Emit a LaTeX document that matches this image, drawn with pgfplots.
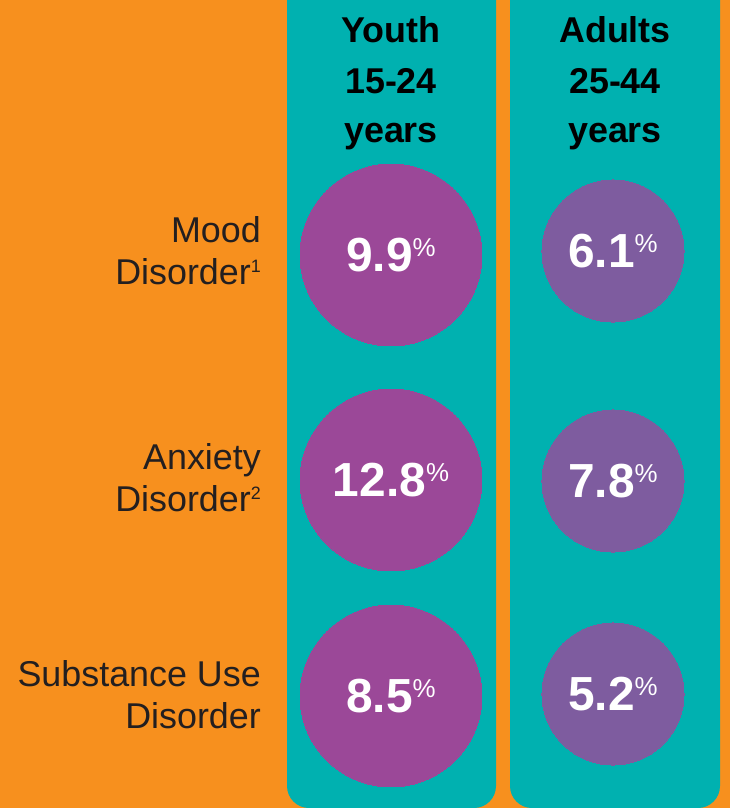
\documentclass[border=0pt]{standalone}
\usepackage{pgfplots}
\pgfplotsset{compat=1.18}
\usepackage{fontspec}
\setmainfont{Liberation Sans}
\definecolor{bgOrange}{HTML}{F7901E}
\definecolor{colTeal}{HTML}{00B1B0}
\definecolor{youthC}{HTML}{9B4898}
\definecolor{adultC}{HTML}{7E5C9F}
\definecolor{labelC}{HTML}{231F20}
\newcommand{\valfmt}[1]{\fontsize{48}{48}\selectfont\bfseries #1\raisebox{15bp}{\fontsize{26}{26}\selectfont\mdseries\%}}
\begin{document}
\begin{tikzpicture}
\begin{axis}[width=730bp,height=808bp,scale only axis,
  xmin=0,xmax=730,ymin=0,ymax=808,y dir=reverse,hide axis,clip=false]
\fill[bgOrange] (0,0) rectangle (730,808);
\fill[colTeal, rounded corners=22bp] (287,0) -- (287,808) -- (496,808) -- (496,0);
\fill[colTeal, rounded corners=22bp] (510,0) -- (510,808) -- (720,808) -- (720,0);
% headers
\begin{scope}[every node/.style={font=\fontsize{36}{40}\selectfont\bfseries, text=black, anchor=base, inner sep=0pt}]
\node at (391,43) {Youth};
\node at (391,94) {15-24};
\node at (391,143) {years};
\node at (615,43) {Adults};
\node at (615,94) {25-44};
\node at (615,143) {years};
\end{scope}
% row labels
\begin{scope}[every node/.style={font=\fontsize{36}{40}\selectfont, text=labelC, anchor=base east, inner sep=0pt}]
\node at (261,242) {Mood};
\node at (261,284) {Disorder\raisebox{12bp}{\fontsize{18}{18}\selectfont 1}};
\node at (261,469) {Anxiety};
\node at (261,511) {Disorder\raisebox{12bp}{\fontsize{18}{18}\selectfont 2}};
\node at (261,686) {Substance Use};
\node at (261,728) {Disorder};
\end{scope}
\addplot[only marks, draw=none, fill=youthC, mark=*, mark size=91.3pt, mark options={draw=youthC, fill=youthC, line width=0pt},
  point meta=explicit symbolic, nodes near coords={\valfmt{\pgfplotspointmeta}},
  every node near coord/.append style={anchor=center, text=white, inner sep=0pt}]
  coordinates {(391,255) [9.9] (391,480) [12.8] (391,696) [8.5]};
\addplot[only marks, draw=none, fill=adultC, mark=*, mark size=71.3pt, mark options={draw=adultC, fill=adultC, line width=0pt},
  point meta=explicit symbolic, nodes near coords={\valfmt{\pgfplotspointmeta}},
  every node near coord/.append style={anchor=center, text=white, inner sep=0pt}]
  coordinates {(613,251) [6.1] (613,481) [7.8] (613,694) [5.2]};
\end{axis}
\end{tikzpicture}
\end{document}
